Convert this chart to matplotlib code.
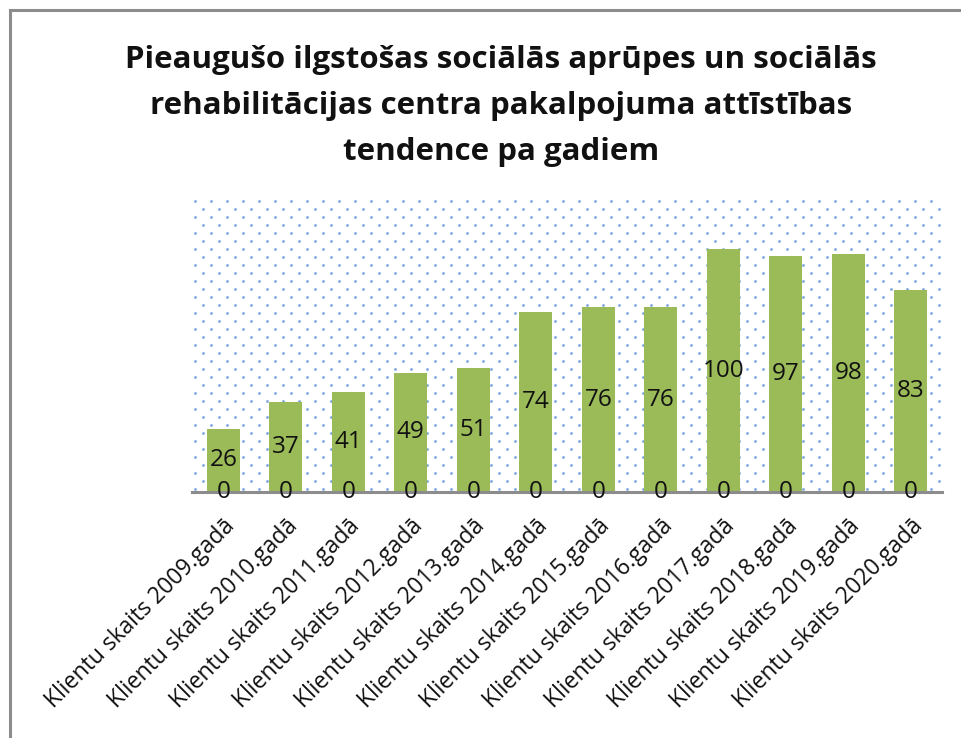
import matplotlib
matplotlib.use("Agg")
import matplotlib.pyplot as plt
import numpy as np
from matplotlib.lines import Line2D

categories = [f"Klientu skaits {y}.gadā" for y in range(2009, 2021)]
values = [26, 37, 41, 49, 51, 74, 76, 76, 100, 97, 98, 83]
zero_series = [0] * 12
title = "Pieaugušo ilgstošas sociālās aprūpes un sociālās\nrehabilitācijas centra pakalpojuma attīstības\ntendence pa gadiem"

plt.rcParams['font.family'] = ['Open Sans', 'DejaVu Sans']

W, H = 961, 738
fig = plt.figure(figsize=(W / 100, H / 100), dpi=100)

# outer border lines (left and top)
fig.add_artist(Line2D([10 / W, 10 / W], [0, 1 - 10 / H], color='#8c8c8c', lw=2.2, transform=fig.transFigure))
fig.add_artist(Line2D([10 / W, 1], [1 - 10 / H, 1 - 10 / H], color='#8c8c8c', lw=2.2, transform=fig.transFigure))

L, R, T, B = 192, 942, 198, 492
ax = fig.add_axes([L / W, 1 - B / H, (R - L) / W, (B - T) / H])

# dotted background pattern (in pixel grid)
xs, ys = [], []
for j, py in enumerate(np.arange(T + 3, B, 8)):
    off = 0 if j % 2 == 0 else 8
    for px in np.arange(L + 3 + off, R, 16):
        xs.append((px - L) / (R - L))
        ys.append(1 - (py - T) / (B - T))
ax.scatter(xs, ys, s=4, color='#4f86d0', alpha=0.75, transform=ax.transAxes, zorder=0, linewidths=0)

x = np.arange(len(categories))
ax.bar(x, values, width=0.53, color='#9bbb59', zorder=2)
ax.bar(x, zero_series, bottom=values, width=0.53, color='#c0504d', zorder=2)

for xi, v, z in zip(x, values, zero_series):
    ax.text(xi, v / 2, f"{v}", ha='center', va='center', fontsize=17.5, color='#111111', zorder=3)
    ax.text(xi, z, f"{z}", ha='center', va='center', fontsize=17.5, color='#111111', zorder=3)

ax.set_xlim(-0.5, len(categories) - 0.5)
ax.set_ylim(0, 121)
for s in ['top', 'right', 'left']:
    ax.spines[s].set_visible(False)
ax.spines['bottom'].set_color('#8c8c8c')
ax.spines['bottom'].set_linewidth(2.2)
ax.spines['bottom'].set_zorder(2.5)
ax.set_yticks([])
ax.set_xticks(x)
ax.set_xticklabels(categories, rotation=45, ha='right', rotation_mode='anchor', fontsize=16.5, color='#111111')
ax.tick_params(axis='x', length=0, pad=16)

fig.text(501 / W, 1 - 106 / H, title, ha='center', va='center', fontsize=22.5, fontweight='bold',
         linespacing=1.68, color='#111111')

fig.savefig("out.png", dpi=100)
